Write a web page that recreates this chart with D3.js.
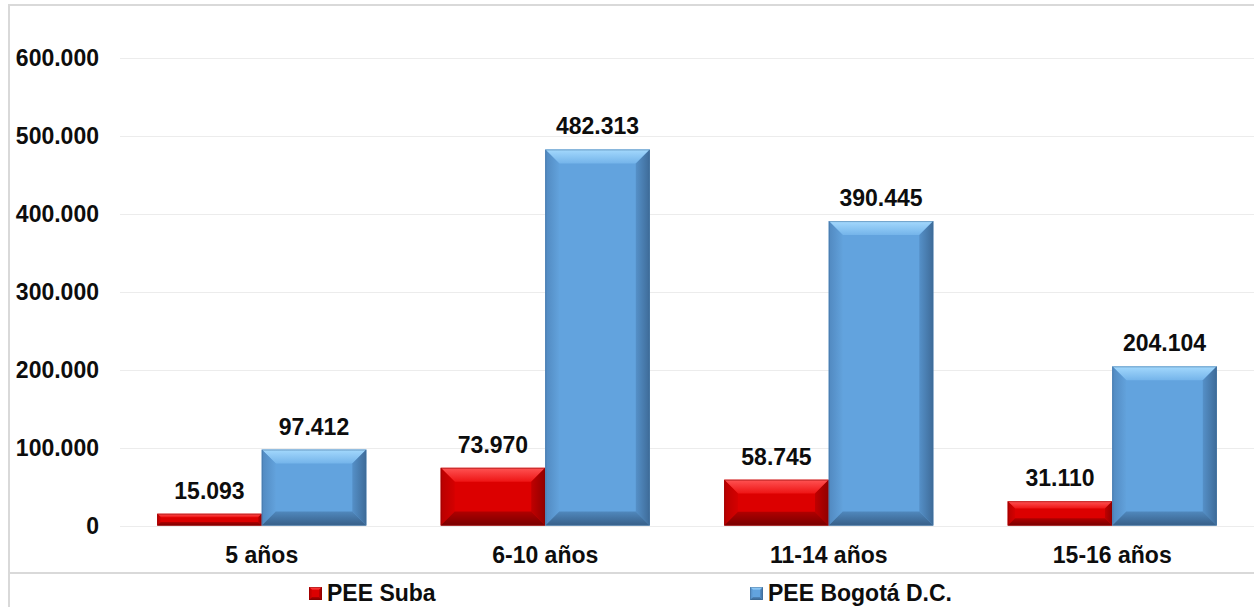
<!DOCTYPE html>
<html lang="es">
<head>
  <meta charset="UTF-8" />
  <title>PEE Suba vs PEE Bogotá D.C. por grupo de edad</title>
  <style>
    body {
      margin: 0;
      background: #fff;
      font-family: 'Liberation Sans', Arial, sans-serif;
    }
    svg { display: block; }
    .lbl {
      font-size: 23px;
      font-weight: bold;
      fill: #0d0d0d;
    }
  </style>
</head>
<body>
  <svg id="chart" width="1254" height="607"></svg>

  <script src="https://d3js.org/d3.v7.min.js"></script>
  <script>
    // data
    const categories = ["5 años", "6-10 años", "11-14 años", "15-16 años"];
    const seriesNames = ["PEE Suba", "PEE Bogotá D.C."];
    const subaValues = [15093, 73970, 58745, 31110];
    const bogotaValues = [97412, 482313, 390445, 204104];
    const yTicks = [0, 100000, 200000, 300000, 400000, 500000, 600000];

    // bevel palettes: [outer edge colour, inner colour] per face
    const palettes = [
      { main: "#dc0000", top: ["#ff5454", "#ee1414"], left: ["#b80000", "#d40000"],
        right: ["#900000", "#c00000"], bottom: ["#780000", "#b00000"], edge: "#8a0000" },
      { main: "#62a3de", top: ["#a4d9fd", "#74b4ea"], left: ["#5189c0", "#62a2dc"],
        right: ["#3e6b98", "#5590c8"], bottom: ["#375f88", "#5088bd"], edge: "#3f6d99" }
    ];

    // spanish style numbers: 482.313
    const locale = d3.formatLocale({ decimal: ",", thousands: ".", grouping: [3], currency: ["$", ""] });
    const fmt = locale.format(",d");

    const svg = d3.select("#chart");
    const width = +svg.attr("width");
    const height = +svg.attr("height");

    const plot = { left: 120, right: 1254, top: 57.7, bottom: 525.5 };

    const x = d3.scaleBand()
                .domain(categories)
                .range([plot.left, plot.right])
                .padding(0);

    const xSub = d3.scaleBand()
                   .domain(seriesNames)
                   .range([0, x.bandwidth()])
                   .paddingInner(0)
                   .paddingOuter(0.356);

    const y = d3.scaleLinear()
                .domain([0, 600000])
                .range([plot.bottom, plot.top]);

    // gradients for the bevel faces (outer edge -> inner edge)
    const defs = svg.append("defs");
    const faceDirs = {
      top: [0, 0, 0, 1],
      bottom: [0, 1, 0, 0],
      left: [0, 0, 1, 0],
      right: [1, 0, 0, 0]
    };
    palettes.forEach((p, i) => {
      Object.keys(faceDirs).forEach(face => {
        const dir = faceDirs[face];
        const grad = defs.append("linearGradient").attr("id", face + i)
                         .attr("x1", dir[0]).attr("y1", dir[1])
                         .attr("x2", dir[2]).attr("y2", dir[3]);
        grad.append("stop").attr("offset", "0%").attr("stop-color", p[face][0]);
        grad.append("stop").attr("offset", "100%").attr("stop-color", p[face][1]);
      });
    });

    // frame: top border, left border, divider above legend
    svg.append("line").attr("x1", 8).attr("x2", width).attr("y1", 5).attr("y2", 5)
       .attr("stroke", "#d9d9d9").attr("stroke-width", 2);
    svg.append("line").attr("x1", 9).attr("x2", 9).attr("y1", 4).attr("y2", height)
       .attr("stroke", "#d9d9d9").attr("stroke-width", 2);
    svg.append("line").attr("x1", 9).attr("x2", width).attr("y1", 573).attr("y2", 573)
       .attr("stroke", "#d9d9d9").attr("stroke-width", 2);

    // gridlines + y labels
    const yAxis = svg.append("g").attr("class", "y axis");
    yAxis.selectAll("line")
         .data(yTicks)
         .enter()
         .append("line")
         .attr("x1", plot.left)
         .attr("x2", plot.right)
         .attr("y1", d => Math.round(y(d)) + 0.5)
         .attr("y2", d => Math.round(y(d)) + 0.5)
         .attr("stroke", "#ececec")
         .attr("stroke-width", 1);
    yAxis.selectAll("text")
         .data(yTicks)
         .enter()
         .append("text")
         .attr("class", "lbl")
         .attr("x", 99)
         .attr("y", d => y(d))
         .attr("dy", "0.36em")
         .attr("text-anchor", "end")
         .text(d => fmt(d));

    // draws a bevelled box like the office "bevel" shape effect
    function bevelBox(g, w, h, b, pi) {
      const p = palettes[pi];
      g.append("rect").attr("width", w).attr("height", h).attr("fill", p.main);
      g.append("polygon")
       .attr("points", [[0, 0], [w, 0], [w - b, b], [b, b]].join(" "))
       .attr("fill", `url(#top${pi})`);
      g.append("polygon")
       .attr("points", [[0, 0], [b, b], [b, h - b], [0, h]].join(" "))
       .attr("fill", `url(#left${pi})`);
      g.append("polygon")
       .attr("points", [[w, 0], [w, h], [w - b, h - b], [w - b, b]].join(" "))
       .attr("fill", `url(#right${pi})`);
      g.append("polygon")
       .attr("points", [[0, h], [w, h], [w - b, h - b], [b, h - b]].join(" "))
       .attr("fill", `url(#bottom${pi})`);
      g.append("rect").attr("x", 0.5).attr("y", 0.5)
       .attr("width", Math.max(0, w - 1)).attr("height", Math.max(0, h - 1))
       .attr("fill", "none").attr("stroke", p.edge).attr("stroke-opacity", 0.5);
    }

    const seriesValues = [subaValues, bogotaValues];
    const bars = [];
    categories.forEach((c, ci) => {
      seriesNames.forEach((s, si) => {
        bars.push({ cat: c, series: s, si: si, value: seriesValues[si][ci] });
      });
    });

    const barG = svg.append("g").attr("class", "bars");
    barG.selectAll("g.bar")
        .data(bars)
        .enter()
        .append("g")
        .attr("class", "bar")
        .attr("transform", d => `translate(${x(d.cat) + xSub(d.series)}, ${y(d.value)})`)
        .each(function(d) {
          const w = xSub.bandwidth();
          const h = y(0) - y(d.value);
          const b = Math.min(14, h * 0.3, w * 0.3);
          bevelBox(d3.select(this), w, h, b, d.si);
        });

    // value labels
    svg.append("g").selectAll("text")
       .data(bars)
       .enter()
       .append("text")
       .attr("class", "lbl")
       .attr("x", d => x(d.cat) + xSub(d.series) + xSub.bandwidth() / 2)
       .attr("y", d => y(d.value) - 15)
       .attr("text-anchor", "middle")
       .text(d => fmt(d.value));

    // category labels
    svg.append("g").selectAll("text")
       .data(categories)
       .enter()
       .append("text")
       .attr("class", "lbl")
       .attr("x", d => x(d) + x.bandwidth() / 2)
       .attr("y", 563)
       .attr("text-anchor", "middle")
       .text(d => d);

    // legend
    const legendX = [309, 750];
    const legend = svg.append("g").selectAll("g")
                      .data(seriesNames)
                      .enter()
                      .append("g")
                      .attr("transform", (d, i) => `translate(${legendX[i]}, 587)`);
    legend.each(function(d, i) {
      bevelBox(d3.select(this), 13, 13, 3, i);
    });
    legend.append("text")
          .attr("class", "lbl")
          .attr("x", 18)
          .attr("y", 14)
          .text(d => d);
  </script>
</body>
</html>
